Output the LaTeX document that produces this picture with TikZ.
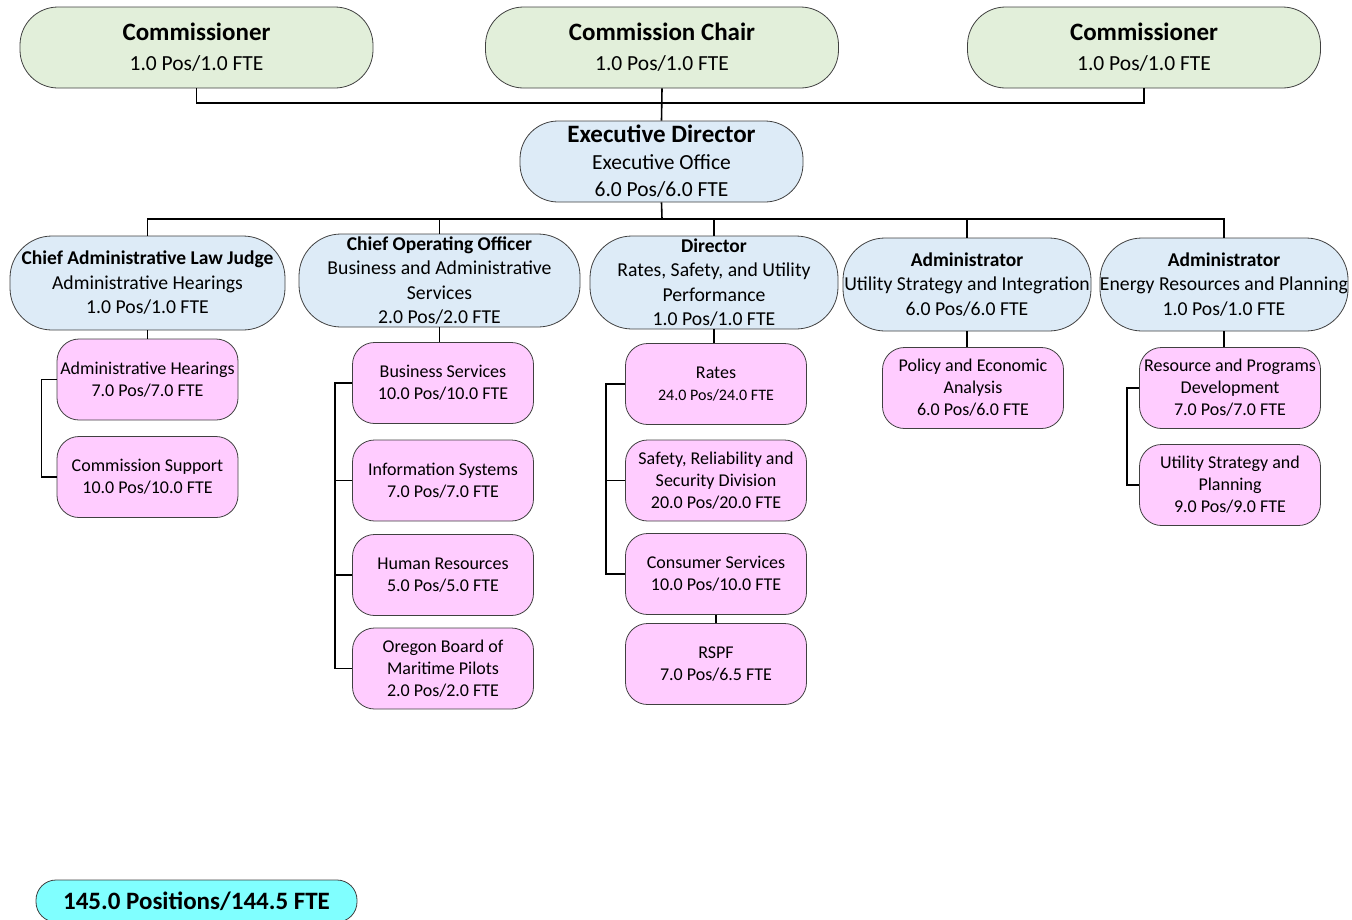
\documentclass[tikz,border=0pt]{standalone}
\usepackage{fontspec}
\setmainfont{Carlito}

\definecolor{boardgreen}{HTML}{E2EFDA}
\definecolor{leadblue}{HTML}{DDEBF7}
\definecolor{unitpink}{HTML}{FFCCFF}
\definecolor{totalcyan}{HTML}{80FFFF}
\definecolor{edgegray}{HTML}{404040}

\newcommand{\bighead}{\fontsize{25}{30}\selectfont\bfseries}
\newcommand{\leadhead}{\fontsize{19.5}{24.5}\selectfont\bfseries}

\tikzset{
  box/.style={draw=edgegray, line width=0.8pt, align=center, inner sep=0pt},
  board/.style={box, fill=boardgreen, minimum width=353pt, minimum height=81pt,
    rounded corners=38pt, font=\fontsize{21.5}{30}\selectfont},
  lead/.style={box, fill=leadblue, minimum height=93pt, rounded corners=42pt,
    font=\fontsize{19.7}{24.5}\selectfont},
  unit/.style={box, fill=unitpink, minimum width=181pt, minimum height=81pt,
    rounded corners=22pt, font=\fontsize{18}{22}\selectfont},
  link/.style={line width=1.6pt},
}

\begin{document}
\begin{tikzpicture}[x=1pt, y=-1pt]

  \useasboundingbox (0,0) rectangle (1352,919);

  % --- commission ---
  \node[board] (comL)  at (196.5,47.5) {{\bighead Commissioner}\\1.0 Pos/1.0 FTE};
  \node[board] (chair) at (662,47.5)   {{\bighead Commission Chair}\\1.0 Pos/1.0 FTE};
  \node[board] (comR)  at (1144,47.5)  {{\bighead Commissioner}\\1.0 Pos/1.0 FTE};

  % --- executive director ---
  \node[board, fill=leadblue, minimum width=283pt, font=\fontsize{21.5}{27}\selectfont]
      (exec) at (661.5,161.5) {{\bighead Executive Director}\\Executive Office\\6.0 Pos/6.0 FTE};

  % --- division leads ---
  \node[lead, minimum width=275pt, minimum height=94pt] (alj) at (147.5,283)
      {{\leadhead Chief Administrative Law Judge}\\Administrative Hearings\\1.0 Pos/1.0 FTE};
  \node[lead, minimum width=281pt] (coo) at (439.5,280.5)
      {{\leadhead Chief Operating Officer}\\Business and Administrative\\Services\\2.0 Pos/2.0 FTE};
  \node[lead, minimum width=248pt] (dir) at (714,282.5)
      {{\leadhead Director}\\Rates, Safety, and Utility\\Performance\\1.0 Pos/1.0 FTE};
  \node[lead, minimum width=248pt] (usi) at (967,284.5)
      {{\leadhead Administrator}\\Utility Strategy and Integration\\6.0 Pos/6.0 FTE};
  \node[lead, minimum width=248pt] (erp) at (1224,284.5)
      {{\leadhead Administrator}\\Energy Resources and Planning\\1.0 Pos/1.0 FTE};

  % --- units ---
  \node[unit] (ah)   at (147.5,379.5) {Administrative Hearings\\7.0 Pos/7.0 FTE};
  \node[unit] (cs)   at (147.5,477)   {Commission Support\\10.0 Pos/10.0 FTE};

  \node[unit] (bs)   at (443,383)   {Business Services\\10.0 Pos/10.0 FTE};
  \node[unit] (is)   at (443,480.5) {Information Systems\\7.0 Pos/7.0 FTE};
  \node[unit] (hr)   at (443,575)   {Human Resources\\5.0 Pos/5.0 FTE};
  \node[unit] (obmp) at (443,668.5) {Oregon Board of\\Maritime Pilots\\2.0 Pos/2.0 FTE};

  \node[unit] (rates) at (716,384)   {Rates\\{\fontsize{16}{22}\selectfont 24.0 Pos/24.0 FTE}};
  \node[unit] (srs)   at (716,480.5) {Safety, Reliability and\\Security Division\\20.0 Pos/20.0 FTE};
  \node[unit] (cons)  at (716,574)   {Consumer Services\\10.0 Pos/10.0 FTE};
  \node[unit] (rspf)  at (716,664)   {RSPF\\7.0 Pos/6.5 FTE};

  \node[unit] (pea) at (973,388)  {Policy and Economic\\Analysis\\6.0 Pos/6.0 FTE};

  \node[unit] (rpd) at (1230,388) {Resource and Programs\\Development\\7.0 Pos/7.0 FTE};
  \node[unit] (usp) at (1230,485) {Utility Strategy and\\Planning\\9.0 Pos/9.0 FTE};

  % --- total ---
  \node[box, fill=totalcyan, minimum width=321pt, minimum height=42pt, rounded corners=20pt,
      font=\bighead] (total) at (196.5,901) {145.0 Positions/144.5 FTE};

  % --- top connectors ---
  \coordinate (topbus) at (662,103);
  \coordinate (bus) at (662,219);
  \draw[link] (comL.south) |- (topbus) -| (comR.south);
  \draw[link] (chair.south) -- (exec.north);
  \draw[link] (exec.south) -- (bus);
  \draw[link] (alj.north) -- (alj.north |- bus) -- (erp.north |- bus) -- (erp.north);
  \foreach \n in {coo,dir,usi}
    \draw[link] (\n.north) -- (\n.north |- bus);

  % --- lead to units ---
  \draw[link] (alj.south) -- (alj.south |- ah.north);
  \draw[link] (ah.west) -- ++(-15,0) |- (cs.west);

  \draw[link] (coo.south) -- (coo.south |- bs.north);
  \draw[link] (bs.west) -- ++(-17,0) |- (obmp.west);
  \draw[link] (is.west) -- ++(-17,0);
  \draw[link] (hr.west) -- ++(-17,0);

  \draw[link] (dir.south) -- (dir.south |- rates.north);
  \draw[link] (rates.west) -- ++(-19,0) |- (cons.west);
  \draw[link] (srs.west) -- ++(-19,0);
  \draw[link] (cons.south) -- (rspf.north);

  \draw[link] (usi.south) -- (usi.south |- pea.north);

  \draw[link] (erp.south) -- (erp.south |- rpd.north);
  \draw[link] (rpd.west) -- ++(-12,0) |- (usp.west);

\end{tikzpicture}
\end{document}
